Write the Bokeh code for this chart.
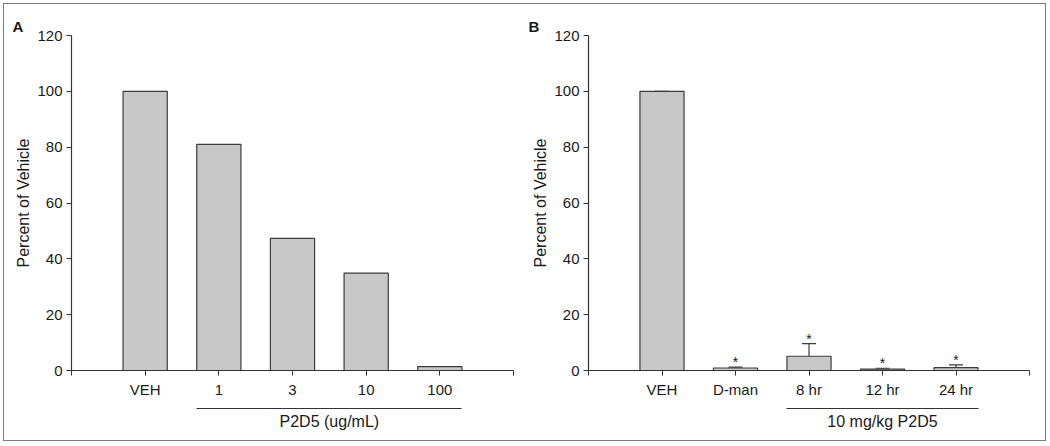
from bokeh.plotting import figure
from bokeh.models import (Range1d, FixedTicker, LinearAxis, Whisker, TeeHead,
                          ColumnDataSource, Title)
from bokeh.layouts import row
from bokeh.embed import file_html
from bokeh.resources import INLINE
from bokeh.core.properties import value

# ---------------- data ----------------
cats_a = ["VEH", "1", "3", "10", "100"]
vals_a = [100, 81, 47.3, 34.9, 1.4]
errs_a = [0, 0, 0, 0, 0]
sig_a = ["", "", "", "", ""]
group_a_label = "P2D5 (ug/mL)"
group_a_members = ["1", "3", "10", "100"]

cats_b = ["VEH", "D-man", "8 hr", "12 hr", "24 hr"]
vals_b = [100, 0.9, 5.1, 0.5, 1.0]
errs_b = [0, 0.3, 4.5, 0.3, 1.0]
sig_b = ["", "*", "*", "*", "*"]
group_b_label = "10 mg/kg P2D5"
group_b_members = ["8 hr", "12 hr", "24 hr"]

y_ticks = [0, 20, 40, 60, 80, 100, 120]
y_label = "Percent of Vehicle"

FONT = "Liberation Sans"
TXT = "#1a1a1a"
AX = "#333333"
BAR_FILL = "#c8c8c8"
BAR_LINE = "#3c3c3c"
BAR_W = 0.6


def key(v):
    return int(v) if float(v).is_integer() else v


def make_panel(cats, vals, errs, sig, members, group_label, letter, letter_offset,
               min_left, min_right, frame_w, show_err):
    n = len(cats)
    xs = list(range(1, n + 1))
    p = figure(frame_width=frame_w, frame_height=335,
               x_range=Range1d(0, n + 1), y_range=Range1d(0, y_ticks[-1]),
               output_backend="svg", toolbar_location=None,
               min_border_left=min_left, min_border_right=min_right,
               min_border_top=31, min_border_bottom=70,
               background_fill_color="white", border_fill_color="white",
               outline_line_color=None)
    p.grid.visible = False

    # panel letter as title
    p.title = Title(text=letter, align="left", offset=letter_offset, standoff=1,
                    text_font=FONT, text_font_size="15px", text_font_style="bold",
                    text_color=TXT)

    # bars
    src = ColumnDataSource(dict(x=xs, top=vals, upper=[v + e for v, e in zip(vals, errs)],
                                lower=vals, sig=sig))
    p.vbar(x="x", top="top", width=BAR_W, source=src, fill_color=BAR_FILL,
           line_color=BAR_LINE, line_width=1.2)

    if show_err:
        w = Whisker(source=src, base="x", upper="upper", lower="lower",
                    dimension="height", line_color=BAR_LINE, line_width=1.2,
                    upper_head=TeeHead(size=14, line_color=BAR_LINE, line_width=1.2),
                    lower_head=None)
        p.add_layout(w)
        p.text(x="x", y="upper", text="sig", source=src, y_offset=-5,
               text_align="center", text_baseline="alphabetic",
               text_font=value(FONT), text_font_size="14px", text_color=TXT)

    # y axis
    ya = p.yaxis[0]
    ya.ticker = FixedTicker(ticks=y_ticks, minor_ticks=[])
    ya.axis_label = y_label
    ya.axis_label_text_font = FONT
    ya.axis_label_text_font_size = "16px"
    ya.axis_label_text_font_style = "normal"
    ya.axis_label_text_color = TXT
    ya.axis_label_standoff = 2
    ya.major_label_text_font = FONT
    ya.major_label_text_font_size = "15px"
    ya.major_label_text_color = TXT
    ya.major_label_standoff = 4
    ya.major_tick_out = 5
    ya.major_tick_in = 0
    ya.minor_tick_line_color = None
    ya.axis_line_color = AX
    ya.major_tick_line_color = AX
    ya.axis_line_width = 1.2

    # x axis (categories)
    xa = p.xaxis[0]
    xa.ticker = FixedTicker(ticks=list(range(0, n + 2)), minor_ticks=[])
    overrides = {0: "", n + 1: ""}
    for i, c in enumerate(cats):
        overrides[i + 1] = c
    xa.major_label_overrides = overrides
    xa.major_label_text_font = FONT
    xa.major_label_text_font_size = "15px"
    xa.major_label_text_color = TXT
    xa.major_label_standoff = 5
    xa.major_tick_out = 5
    xa.major_tick_in = 0
    xa.minor_tick_line_color = None
    xa.axis_line_color = AX
    xa.major_tick_line_color = AX
    xa.axis_line_width = 1.2
    xa.axis_label = " "
    xa.axis_label_text_font_size = "1px"
    xa.axis_label_standoff = 4

    # group bracket as an extra axis below
    first = cats.index(members[0]) + 1
    last = cats.index(members[-1]) + 1
    lo, hi = first - BAR_W / 2, last + BAR_W / 2
    mid = key((lo + hi) / 2)
    ga = LinearAxis(ticker=FixedTicker(ticks=[mid], minor_ticks=[]),
                    major_label_overrides={mid: group_label},
                    bounds=(lo, hi), major_tick_out=0, major_tick_in=0,
                    major_label_standoff=4, major_label_text_font=FONT,
                    major_label_text_font_size="16px", major_label_text_color=TXT,
                    axis_line_color=AX, axis_line_width=1.2,
                    minor_tick_line_color=None, major_tick_line_color=None)
    p.add_layout(ga, "below")
    return p


pA = make_panel(cats_a, vals_a, errs_a, sig_a, group_a_members, group_a_label, "A", -59,
                67, 7, 442, False)
pB = make_panel(cats_b, vals_b, errs_b, sig_b, group_b_members, group_b_label, "B", -60,
                68, 16, 441, True)

layout = row(pA, pB, styles={"border": "1px solid #7a7a7a", "margin": "3px 0 0 3px"})

open("out.html", "w").write(file_html(layout, INLINE))
